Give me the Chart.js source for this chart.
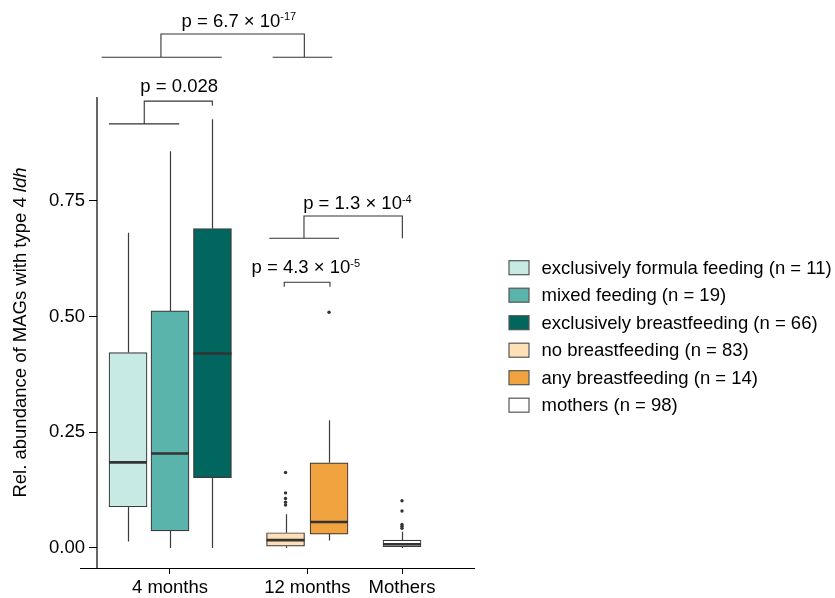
<!DOCTYPE html>
<html>
<head>
<meta charset="utf-8">
<script src="https://cdn.jsdelivr.net/npm/chart.js@4.4.1/dist/chart.umd.min.js"></script>
<style>
  html, body { margin: 0; padding: 0; background: #fff; }
  canvas { display: block; }
</style>
</head>
<body>
<canvas id="chart" width="835" height="598"></canvas>
<script>
// groups, one box each
const groupLabels = [
  "exclusively formula feeding",
  "mixed feeding",
  "exclusively breastfeeding",
  "no breastfeeding",
  "any breastfeeding",
  "mothers",
];
const groupN = [11, 19, 66, 83, 14, 98];
const boxColors = ["#C7EAE5", "#5AB4AC", "#01665E", "#FEE0B6", "#F1A340", "#FFFFFF"];

// box positions on the x axis, and the tick labels
const boxX = [0.638, 1.0, 1.366, 1.996, 2.371, 3.0];
const tickX = [1.0, 2.184, 3.0];
const tickLabels = ["4 months", "12 months", "Mothers"];

// five number summaries
const whiskerLow = [0.014, 0.0, 0.0, 0.0, 0.016, 0.0];
const q1 = [0.089, 0.037, 0.152, 0.004, 0.030, 0.003];
const median = [0.185, 0.204, 0.420, 0.017, 0.056, 0.008];
const q3 = [0.422, 0.512, 0.690, 0.033, 0.184, 0.017];
const whiskerHigh = [0.681, 0.857, 0.926, 0.073, 0.276, 0.035];

// outliers per box (empty where there are none)
const outliers = [
  [],
  [],
  [],
  [0.163, 0.119, 0.107, 0.099, 0.093],
  [0.509],
  [0.102, 0.080, 0.051, 0.047, 0.0425],
];

const yTicks = [0, 0.25, 0.5, 0.75];

// significance brackets (data coordinates)
const brackets = [
  {
    text: "p = 6.7 \u00d7 10", sup: "-17", tx: 1.594, ty: 1.126,
    path: [[0.922, 1.060], [0.922, 1.110], [2.158, 1.110], [2.158, 1.060]],
    bases: [[0.411, 1.446, 1.060], [1.885, 2.399, 1.060]],
  },
  {
    text: "p = 0.028", sup: "", tx: 1.079, ty: 0.985,
    path: [[0.778, 0.916], [0.778, 0.965], [1.365, 0.965], [1.365, 0.955]],
    bases: [[0.474, 1.080, 0.916]],
  },
  {
    text: "p = 1.3 \u00d7 10", sup: "-4", tx: 2.616, ty: 0.732,
    path: [[2.155, 0.669], [2.155, 0.717], [3.003, 0.717], [3.003, 0.669]],
    bases: [[1.856, 2.457, 0.669]],
  },
  {
    text: "p = 4.3 \u00d7 10", sup: "-5", tx: 2.171, ty: 0.593,
    path: [[1.985, 0.564], [1.985, 0.574], [2.379, 0.574], [2.379, 0.564]],
    bases: [],
  },
];

const FONT = '"Liberation Sans", Arial, Helvetica, sans-serif';
const FS = 18.5;
const BOX_W = 38;

const outlierPoints = [];
outliers.forEach((list, i) => {
  list.forEach((v) => outlierPoints.push({ x: boxX[i], y: v }));
});

const boxPlugin = {
  id: "boxDetails",
  beforeDatasetsDraw(chart) {
    const { ctx, scales: { x, y } } = chart;
    ctx.save();
    ctx.strokeStyle = "#3b3b3b";
    ctx.lineWidth = 1.2;
    boxX.forEach((bx, i) => {
      const px = Math.round(x.getPixelForValue(bx)) + 0.5;
      ctx.beginPath();
      ctx.moveTo(px, y.getPixelForValue(whiskerLow[i]));
      ctx.lineTo(px, y.getPixelForValue(q1[i]));
      ctx.moveTo(px, y.getPixelForValue(q3[i]));
      ctx.lineTo(px, y.getPixelForValue(whiskerHigh[i]));
      ctx.stroke();
    });
    ctx.restore();
  },
  afterDatasetsDraw(chart) {
    const { ctx, scales: { x, y } } = chart;
    ctx.save();
    ctx.strokeStyle = "#333333";
    ctx.lineWidth = 2.6;
    boxX.forEach((bx, i) => {
      const px = x.getPixelForValue(bx);
      const py = y.getPixelForValue(median[i]);
      ctx.beginPath();
      ctx.moveTo(px - BOX_W / 2, py);
      ctx.lineTo(px + BOX_W / 2, py);
      ctx.stroke();
    });
    ctx.restore();
  },
  afterDraw(chart) {
    const { ctx, chartArea: area, scales: { x, y } } = chart;
    ctx.save();

    // axis lines
    ctx.strokeStyle = "#000";
    ctx.lineWidth = 1.2;
    ctx.beginPath();
    ctx.moveTo(area.left, area.top);
    ctx.lineTo(area.left, area.bottom + 1);
    ctx.moveTo(area.left - 17, area.bottom + 0.5);
    ctx.lineTo(area.right, area.bottom + 0.5);
    ctx.stroke();

    // brackets
    ctx.strokeStyle = "#333";
    ctx.lineWidth = 1.1;
    ctx.fillStyle = "#000";
    brackets.forEach((b) => {
      ctx.beginPath();
      b.path.forEach((p, k) => {
        const px = x.getPixelForValue(p[0]);
        const py = y.getPixelForValue(p[1]);
        if (k === 0) ctx.moveTo(px, py);
        else ctx.lineTo(px, py);
      });
      b.bases.forEach((l) => {
        const py = y.getPixelForValue(l[2]);
        ctx.moveTo(x.getPixelForValue(l[0]), py);
        ctx.lineTo(x.getPixelForValue(l[1]), py);
      });
      ctx.stroke();

      ctx.font = `${FS}px ${FONT}`;
      const wMain = ctx.measureText(b.text).width;
      ctx.font = `11px ${FONT}`;
      const wSup = b.sup ? ctx.measureText(b.sup).width : 0;
      const total = wMain + wSup;
      const cx = x.getPixelForValue(b.tx);
      const by = y.getPixelForValue(b.ty);
      ctx.textAlign = "left";
      ctx.textBaseline = "alphabetic";
      ctx.font = `${FS}px ${FONT}`;
      ctx.fillText(b.text, cx - total / 2, by);
      if (b.sup) {
        ctx.font = `11px ${FONT}`;
        ctx.fillText(b.sup, cx - total / 2 + wMain, by - 6.5);
      }
    });

    // y axis title with italic gene name
    const titleMain = "Rel. abundance of MAGs with type 4 ";
    const titleIt = "ldh";
    ctx.font = `${FS}px ${FONT}`;
    const w1 = ctx.measureText(titleMain).width;
    ctx.font = `italic ${FS}px ${FONT}`;
    const w2 = ctx.measureText(titleIt).width;
    ctx.translate(21, (area.top + area.bottom) / 2);
    ctx.rotate(-Math.PI / 2);
    ctx.textBaseline = "middle";
    ctx.textAlign = "left";
    ctx.font = `${FS}px ${FONT}`;
    ctx.fillText(titleMain, -(w1 + w2) / 2, 0);
    ctx.font = `italic ${FS}px ${FONT}`;
    ctx.fillText(titleIt, -(w1 + w2) / 2 + w1, 0);
    ctx.setTransform(1, 0, 0, 1, 0, 0);

    // legend
    chart.data.datasets.slice(0, groupLabels.length).forEach((ds, i) => {
      const cy = 267.7 + i * 27.5;
      ctx.fillStyle = ds.backgroundColor;
      ctx.fillRect(509, cy - 7, 20, 14);
      ctx.strokeStyle = "#555";
      ctx.lineWidth = 1.2;
      ctx.strokeRect(509, cy - 7, 20, 14);
      ctx.fillStyle = "#000";
      ctx.font = `${FS}px ${FONT}`;
      ctx.textAlign = "left";
      ctx.textBaseline = "middle";
      ctx.fillText(ds.label, 541.5, cy + 1);
    });

    ctx.restore();
  },
};

const ctx = document.getElementById("chart").getContext("2d");

new Chart(ctx, {
  type: "bar",
  data: {
    datasets: [
      ...groupLabels.map((g, i) => ({
        label: `${g} (n = ${groupN[i]})`,
        data: [{ x: boxX[i], y: [q1[i], q3[i]] }],
        backgroundColor: boxColors[i],
        borderColor: "#3b3b3b",
        borderWidth: 1.2,
        borderSkipped: false,
        barThickness: BOX_W,
        grouped: false,
      })),
      {
        type: "scatter",
        label: "outliers",
        data: outlierPoints,
        pointRadius: 1.7,
        pointHoverRadius: 1.7,
        backgroundColor: "#333",
        borderWidth: 0,
      },
    ],
  },
  options: {
    responsive: false,
    animation: false,
    events: [],
    layout: { padding: { top: 97, right: 360, left: 0, bottom: 0 } },
    plugins: {
      legend: { display: false },
      tooltip: { enabled: false },
    },
    scales: {
      x: {
        type: "linear",
        offset: false,
        min: 0.3707,
        max: 3.6293,
        afterBuildTicks: (s) => {
          s.ticks = tickX.map((v) => ({ value: v }));
        },
        afterFit: (s) => {
          s.height = 30;
        },
        ticks: {
          callback: (v, i) => tickLabels[i],
          font: { family: FONT, size: FS },
          color: "#000",
          padding: 3,
          maxRotation: 0,
          autoSkip: false,
        },
        grid: { drawOnChartArea: false, offset: false, tickLength: 6, color: "#000", lineWidth: 1 },
        border: { display: false },
      },
      y: {
        min: -0.0432,
        max: 0.974,
        afterBuildTicks: (s) => {
          s.ticks = yTicks.map((v) => ({ value: v }));
        },
        afterFit: (s) => {
          s.width = 97;
        },
        ticks: {
          callback: (v) => v.toFixed(2),
          font: { family: FONT, size: FS },
          color: "#000",
          padding: 4,
        },
        grid: { drawOnChartArea: false, tickLength: 8, color: "#000", lineWidth: 1 },
        border: { display: false },
      },
    },
  },
  plugins: [boxPlugin],
});
</script>
</body>
</html>
